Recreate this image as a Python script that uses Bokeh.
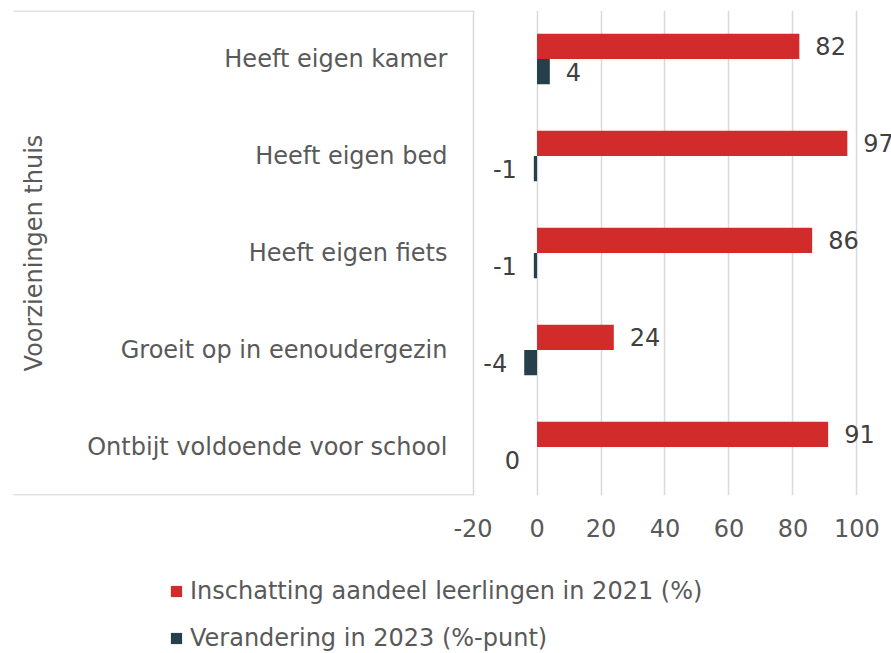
import math
from bokeh.plotting import figure
from bokeh.layouts import column
from bokeh.models import ColumnDataSource, FixedTicker, Legend, LegendItem, Range1d
from bokeh.transform import dodge
from bokeh.core.properties import value
from bokeh.embed import file_html
from bokeh.resources import INLINE

# ---- data ----
categories = ["Heeft eigen kamer", "Heeft eigen bed", "Heeft eigen fiets",
              "Groeit op in eenoudergezin", "Ontbijt voldoende voor school"]
aandeel_2021 = [82, 97, 86, 24, 91]
verandering_2023 = [4, -1, -1, -4, 0]
x_ticks = [-20, 0, 20, 40, 60, 80, 100]
axis_title = "Voorzieningen thuis"
series_names = ["Inschatting aandeel leerlingen in 2021 (%)",
                "Verandering in 2023 (%-punt)"]

# ---- style ----
FONT = "DejaVu Sans"
RED = "#D12B2B"
DARK = "#263F4A"
GRID = "#D9D9D9"
TXT = "#595959"
LBL = "#404040"
FS = "24px"

p = figure(width=891, height=555, y_range=list(reversed(categories)),
           x_range=(-167.7, 110.8), output_backend="svg", toolbar_location=None,
           min_border_left=0, min_border_right=0, min_border_top=10,
           min_border_bottom=60)
p.outline_line_color = None
p.yaxis.visible = False
p.ygrid.grid_line_color = None
p.xgrid.ticker = FixedTicker(ticks=x_ticks)
p.xgrid.grid_line_color = GRID
p.xgrid.grid_line_width = 1.5
p.xaxis.ticker = FixedTicker(ticks=x_ticks)
p.xaxis.major_label_overrides = {t: str(t) for t in x_ticks}
p.xaxis.axis_line_color = None
p.xaxis.major_tick_line_color = None
p.xaxis.minor_tick_line_color = None
p.xaxis.major_tick_out = 0
p.xaxis.major_tick_in = 0
p.xaxis.major_label_text_font = FONT
p.xaxis.major_label_text_font_size = FS
p.xaxis.major_label_text_color = TXT
p.xaxis.major_label_standoff = 23

src = ColumnDataSource(dict(cat=categories, a=aandeel_2021, v=verandering_2023,
                            al=[str(x) for x in aandeel_2021]))
pos = [(c, v) for c, v in zip(categories, verandering_2023) if v > 0]
neg = [(c, v) for c, v in zip(categories, verandering_2023) if v <= 0]
src_pos = ColumnDataSource(dict(cat=[c for c, _ in pos], v=[v for _, v in pos],
                                t=[str(v) for _, v in pos]))
src_neg = ColumnDataSource(dict(cat=[c for c, _ in neg], v=[v for _, v in neg],
                                t=[str(v) for _, v in neg]))

# box around the category labels
top_src = ColumnDataSource(dict(c=[categories[0]], x0=[-163.6], x1=[-20]))
bot_src = ColumnDataSource(dict(c=[categories[-1]], x0=[-163.6], x1=[-20]))
p.segment(x0="x0", x1="x1", y0=dodge("c", 0.495, range=p.y_range),
          y1=dodge("c", 0.495, range=p.y_range), source=top_src,
          line_color=GRID, line_width=1.5)
p.segment(x0="x0", x1="x1", y0=dodge("c", -0.495, range=p.y_range),
          y1=dodge("c", -0.495, range=p.y_range), source=bot_src,
          line_color=GRID, line_width=1.5)

p.hbar(y=dodge("cat", 0.13, range=p.y_range), left=0, right="a", height=0.26,
       fill_color=RED, line_color=None, source=src)
p.hbar(y=dodge("cat", -0.13, range=p.y_range), left=0, right="v", height=0.26,
       fill_color=DARK, line_color=None, source=src)

p.text(x="a", y=dodge("cat", 0.13, range=p.y_range), text="al", source=src,
       x_offset=16, text_align="left", text_baseline="middle",
       text_font=value(FONT), text_font_size=FS, text_color=LBL)
p.text(x="v", y=dodge("cat", -0.13, range=p.y_range), text="t", source=src_pos,
       x_offset=16, text_align="left", text_baseline="middle",
       text_font=value(FONT), text_font_size=FS, text_color=LBL)
p.text(x="v", y=dodge("cat", -0.13, range=p.y_range), text="t", source=src_neg,
       x_offset=-17, text_align="right", text_baseline="middle",
       text_font=value(FONT), text_font_size=FS, text_color=LBL)

# category labels
p.text(x=-28.0, y="cat", text="cat", source=src, text_align="right",
       text_baseline="middle", text_font=value(FONT), text_font_size=FS,
       text_color=TXT)
# axis title
p.text(x=[-157.3], y=[categories[2]], text=[axis_title], angle=math.pi / 2,
       text_align="center", text_baseline="middle", text_font=value(FONT),
       text_font_size=FS, text_color=TXT)

# ---- legend (separate strip below the chart) ----
lg = figure(width=891, height=98, output_backend="svg", toolbar_location=None,
            x_range=Range1d(0, 1), y_range=Range1d(0, 1),
            x_axis_type=None, y_axis_type=None,
            min_border_left=0, min_border_right=0, min_border_top=0,
            min_border_bottom=0)
lg.outline_line_color = None
lg.border_fill_color = "white"
lg.background_fill_color = "white"
offscreen = ColumnDataSource(dict(y=[-5], r=[0]))
r1 = lg.hbar(y="y", right="r", left=0, height=0.1, fill_color=RED,
             line_color=None, source=offscreen)
r2 = lg.hbar(y="y", right="r", left=0, height=0.1, fill_color=DARK,
             line_color=None, source=offscreen)
legend = Legend(items=[LegendItem(label=series_names[0], renderers=[r1]),
                       LegendItem(label=series_names[1], renderers=[r2])],
                orientation="vertical", location=(169, 0),
                border_line_color=None, background_fill_alpha=0,
                label_text_font=FONT, label_text_font_size=FS,
                label_text_color=TXT, glyph_width=14, glyph_height=14,
                label_height=30, spacing=17, padding=0, margin=0,
                label_standoff=7)
lg.add_layout(legend)

layout = column(p, lg, spacing=0)
open("out.html", "w").write(file_html(layout, INLINE))
